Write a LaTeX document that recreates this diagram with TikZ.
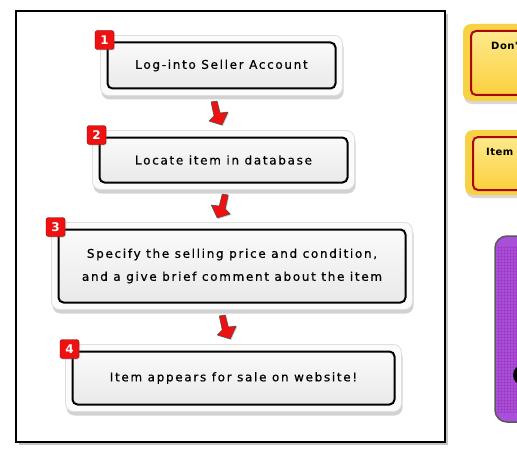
\documentclass[tikz,border=0pt]{standalone}
\usepackage{fontspec}
\setmainfont{DejaVu Sans}
\newfontfamily\passofont[LetterSpace=14, FakeBold=0.6]{DejaVu Sans}
\newfontfamily\avvisofont[LetterSpace=5]{DejaVu Sans Bold}
\usetikzlibrary{calc, shadows, patterns, backgrounds}

\definecolor{rosso}{HTML}{EE1111}
\definecolor{giallosu}{HTML}{FDE98C}
\definecolor{giallogiu}{HTML}{FBD03C}
\definecolor{bordogiallo}{HTML}{F8D244}
\definecolor{bordorosso}{HTML}{A60A0A}
\definecolor{viola}{HTML}{A950DA}

\tikzset{
    passo/.style={draw=black, line width=2pt, rounded corners=5pt,
        top color=gray!4, bottom color=gray!17, align=center, inner sep=0pt,
        font=\passofont\fontsize{12}{23}\selectfont},
    cornice/.style={fill=gray!3, draw=gray!25, line width=0.8pt, rounded corners=8pt,
        drop shadow={shadow xshift=1pt, shadow yshift=-4pt, opacity=0.35}},
    numero/.style={fill=rosso, draw=red!55!black, line width=0.4pt, rounded corners=2.5pt,
        minimum size=19pt, inner sep=0pt, text=white,
        font=\bfseries\fontsize{12}{12}\selectfont,
        drop shadow={shadow xshift=1pt, shadow yshift=-1pt, opacity=0.3}},
    avviso/.style={draw=bordorosso, line width=2pt, rounded corners=5pt,
        top color=giallosu, bottom color=giallogiu, inner sep=0pt, anchor=north west},
    testoavviso/.style={font=\avvisofont\fontsize{10}{10}\selectfont, anchor=west, inner sep=0pt},
    freccia/.pic={
        \draw[fill=rosso, draw=black!70, line width=0.5pt, line join=round,
            drop shadow={shadow xshift=1pt, shadow yshift=-1pt, opacity=0.35}]
            (-7.5,-11) -- (-1.5,-12) .. controls (0,-6) .. (1.5,0) -- (9.5,-1)
            -- (3.5,12) -- (-9.5,8) -- (-4.5,3) .. controls (-5.5,-4) .. cycle;
    }
}

\begin{document}
\begin{tikzpicture}[x=1pt, y=-1pt]
    \useasboundingbox (0,0) rectangle (517,460);

    % passi
    \node[passo, minimum width=228pt, minimum height=46pt] (s1) at (221.5,65.5) {Log-into Seller Account};
    \node[passo, minimum width=248pt, minimum height=45pt] (s2) at (223.5,160) {Locate item in database};
    \node[passo, minimum width=347pt, minimum height=73pt] (s3) at (232,266)
        {Specify the selling price and condition,\\and a give brief comment about the item};
    \node[passo, minimum width=322pt, minimum height=53pt] (s4) at (233.5,378) {Item appears for sale on website!};

    \begin{scope}[on background layer]
        % sfondo e riquadro principale
        \fill[white] (0,0) rectangle (517,460);
        \draw[line width=2pt, fill=white,
            drop shadow={shadow xshift=3pt, shadow yshift=-3pt, opacity=0.45}]
            (16,11) rectangle (445,442);
        % cornici dietro i passi
        \foreach \s in {s1,s2,s3,s4}
            \draw[cornice] ($(\s.north west)+(-6,-6)$) rectangle ($(\s.south east)+(6,6)$);
    \end{scope}

    % numeri
    \node[numero] (n1) at ($(s1.north west)+(-2,-1.5)$) {1};
    \node[numero] (n2) at ($(s2.north west)+(-2,-1.5)$) {2};
    \node[numero] (n3) at ($(s3.north west)+(-2,-1.5)$) {3};
    \node[numero] (n4) at ($(s4.north west)+(-2,-1.5)$) {4};

    % frecce
    \pic at ($(s1.south)!0.5!(s2.north)+(-4,0)$) {freccia};
    \pic[xscale=-1] at ($(s2.south)!0.5!(s3.north)+(-7,0)$) {freccia};
    \pic at ($(s3.south)!0.5!(s4.north)+(-6,0)$) {freccia};

    % avvisi gialli
    \fill[bordogiallo, rounded corners=8pt,
        drop shadow={shadow xshift=1pt, shadow yshift=-3pt, opacity=0.3}] (463,24) rectangle (600,101);
    \node[avviso, minimum width=130pt, minimum height=64pt] (a1) at (470,30) {};
    \node[testoavviso] (t1) at (491,46) {Don'};

    \fill[bordogiallo, rounded corners=8pt,
        drop shadow={shadow xshift=1pt, shadow yshift=-3pt, opacity=0.3}] (465,130) rectangle (600,195);
    \node[avviso, minimum width=130pt, minimum height=53pt] (a2) at (472,136) {};
    \node[testoavviso] (t2) at (486,152) {Item};

    % pannello viola
    \draw[fill=viola, draw=black!65, line width=1.5pt, rounded corners=12pt] (495,236) rectangle (590,422);
    \fill[pattern=grid, pattern color=violet!35!viola, opacity=0.5] (497,246) rectangle (517,412);
    \fill[black] (523,375) circle (10pt);
\end{tikzpicture}
\end{document}
